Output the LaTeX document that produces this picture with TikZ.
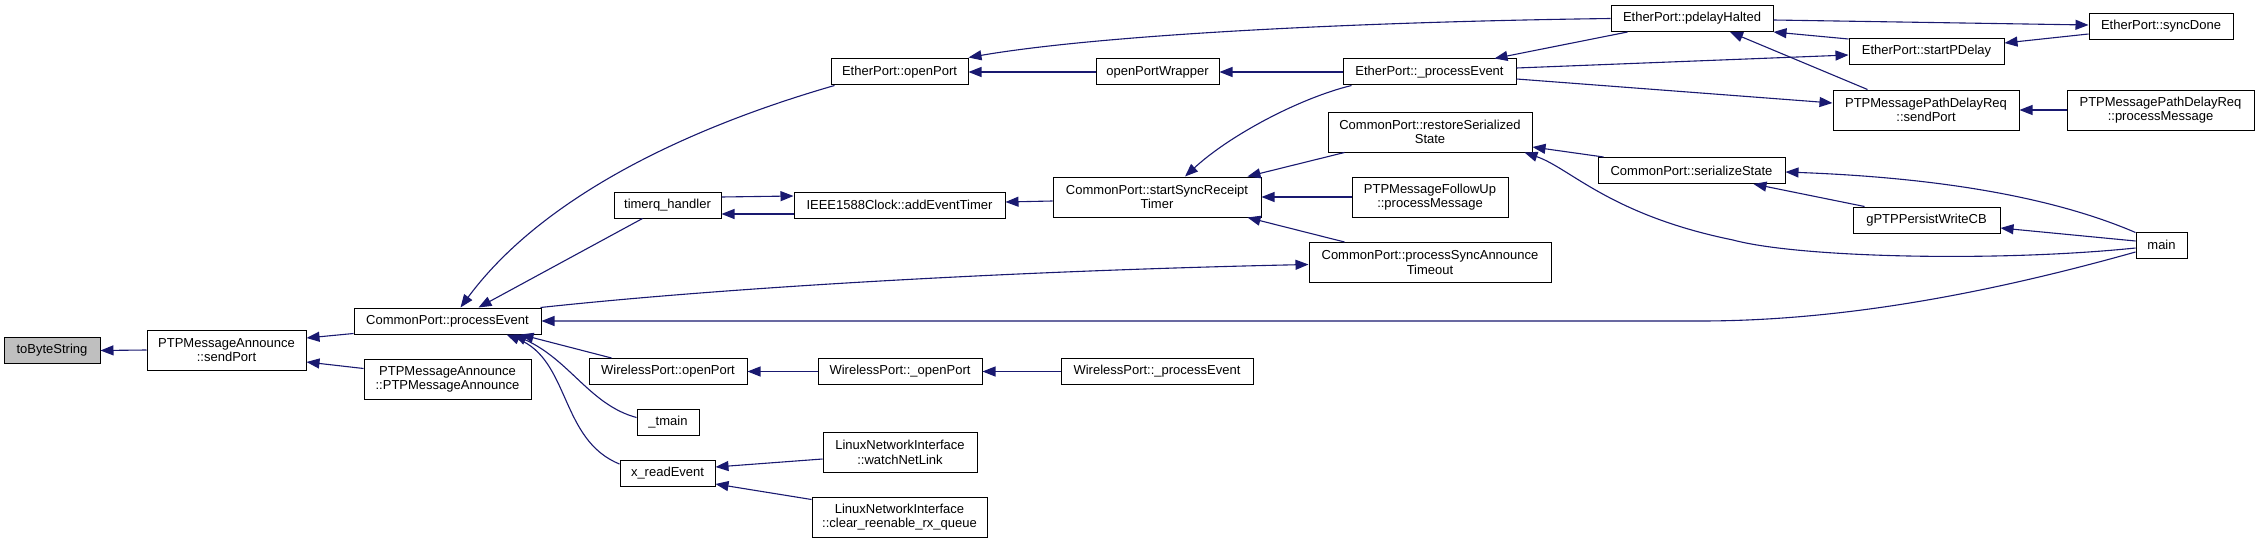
\documentclass[tikz,border=0pt]{standalone}
\usepackage{fontspec}
\setmainfont{Liberation Sans}
\usetikzlibrary{arrows.meta,calc}
\definecolor{edgeblue}{HTML}{191970}
\definecolor{boxgray}{HTML}{BFBFBF}
\begin{document}
\begin{tikzpicture}[x=1pt,y=-1pt,
  fn/.style={draw=black, line width=1pt, fill=white, inner sep=0pt, align=center,
             font=\fontsize{13}{14.7}\selectfont},
  one/.style={fn, minimum height=26pt},
  two/.style={fn, minimum height=40pt},
  e/.style={draw=edgeblue, line width=1.1pt, -{Triangle[length=13pt,width=10pt]}}]
\useasboundingbox (0,0) rectangle (2260,543);
\fill[white] (0,0) rectangle (2260,543);

% nodes
\node[one, fill=boxgray, minimum width=96pt] (tbs) at (52,350.5) {toByteString};
\node[two, minimum width=159pt] (sp) at (226.5,350) {PTPMessageAnnounce\\::sendPort};
\node[one, minimum width=187pt] (pe) at (447.5,321) {CommonPort::processEvent};
\node[two, minimum width=167pt] (pa) at (447.5,379.5) {PTPMessageAnnounce\\::PTPMessageAnnounce};
\node[one, minimum width=137pt] (eop) at (899.5,72) {EtherPort::openPort};
\node[one, minimum width=107pt] (tq) at (667.5,205) {timerq\_handler};
\node[one, minimum width=158pt] (wop) at (668,371.5) {WirelessPort::openPort};
\node[one, minimum width=62pt] (tm) at (668,422.5) {\_tmain};
\node[one, minimum width=95pt] (xr) at (667.5,473.5) {x\_readEvent};
\node[one, minimum width=123pt] (opw) at (1157.5,72) {openPortWrapper};
\node[one, minimum width=211pt] (aet) at (899.5,205) {IEEE1588Clock::addEventTimer};
\node[one, minimum width=164pt] (wop2) at (900,371.5) {WirelessPort::\_openPort};
\node[two, minimum width=154pt] (wnl) at (900,452) {LinuxNetworkInterface\\::watchNetLink};
\node[two, minimum width=175pt] (crq) at (899.5,517) {LinuxNetworkInterface\\::clear\_reenable\_rx\_queue};
\node[two, minimum width=208pt] (ssrt) at (1157,197) {CommonPort::startSyncReceipt\\Timer};
\node[one, minimum width=192pt] (wpe) at (1157,371.5) {WirelessPort::\_processEvent};
\node[one, minimum width=173pt] (epe) at (1429.5,72) {EtherPort::\_processEvent};
\node[two, minimum width=204pt] (rss) at (1430,132) {CommonPort::restoreSerialized\\State};
\node[two, minimum width=156pt] (fu) at (1430,197) {PTPMessageFollowUp\\::processMessage};
\node[two, minimum width=242pt] (psat) at (1430,262.5) {CommonPort::processSyncAnnounce\\Timeout};
\node[one, minimum width=162pt] (pdh) at (1692,18.5) {EtherPort::pdelayHalted};
\node[one, minimum width=187pt] (ss) at (1691.5,170.5) {CommonPort::serializeState};
\node[one, minimum width=155pt] (spd) at (1926.5,51.5) {EtherPort::startPDelay};
\node[two, minimum width=186pt] (pdrs) at (1926,110) {PTPMessagePathDelayReq\\::sendPort};
\node[one, minimum width=147pt] (gpw) at (1926.5,220) {gPTPPersistWriteCB};
\node[one, minimum width=144pt] (sd) at (2161,26.5) {EtherPort::syncDone};
\node[two, minimum width=187pt] (pdrp) at (2160.5,110) {PTPMessagePathDelayReq\\::processMessage};
\node[one, minimum width=51pt] (mn) at (2161.5,245) {main};

% edges
\draw[e] (sp.west) -- (tbs.east);
\draw[e] ($(pe.south west)+(0,-1)$) -- ($(sp.east)+(0,-12)$);
\draw[e] ($(pa.west)+(0,-11)$) -- ($(sp.east)+(0,12)$);
\draw[e] ($(eop.south west)+(4,0)$) .. controls (680,130) and (540,200) .. ($(pe.north)+(13,0)$);
\draw[e] ($(tq.south)+(-25,0)$) -- ($(pe.north)+(31,0)$);
\draw[e] ($(mn.west)+(0,7)$) .. controls (2000,290) and (1850,321) .. (1700,321) -- (pe.east);
\draw[e] ($(wop.north west)+(23,0)$) -- ($(pe.south east)+(-21,0)$);
\draw[e] ($(tm.west)+(0,-5)$) .. controls (590,405) and (570,360) .. ($(pe.south east)+(-28,0)$);
\draw[e] ($(xr.north west)+(0,4)$) .. controls (560,440) and (570,360) .. ($(pe.south east)+(-35,0)$);
\draw[e] ($(pe.north east)+(-1,0)$) .. controls (750,285) and (1050,270) .. ($(psat.west)+(0,2)$);
\draw[e] (opw.west) -- (eop.east);
\draw[e] (pdh.west) .. controls (1350,22) and (1100,35) .. ($(eop.north east)+(0,-1)$);
\draw[e] (epe.west) -- (opw.east);
\draw[e] ($(tq.east)+(0,-8)$) -- ($(aet.west)+(0,-9)$);
\draw[e] ($(aet.west)+(0,9)$) -- ($(tq.east)+(0,9)$);
\draw[e] ($(ssrt.west)+(0,4)$) -- ($(aet.east)+(0,-3)$);
\draw[e] ($(epe.south west)+(9,0)$) .. controls (1300,98) and (1230,135) .. ($(ssrt.north)+(28,0)$);
\draw[e] ($(rss.south west)+(17,0)$) -- ($(ssrt.north east)+(-14,0)$);
\draw[e] (fu.west) -- (ssrt.east);
\draw[e] ($(psat.north west)+(36,0)$) -- ($(ssrt.south east)+(-14,0)$);
\draw[e] ($(pdh.south west)+(17,0)$) -- ($(epe.north east)+(-22,0)$);
\draw[e] ($(epe.east)+(0,-4)$) -- ($(spd.west)+(0,3.5)$);
\draw[e] ($(epe.east)+(0,7)$) -- ($(pdrs.west)+(0,-7)$);
\draw[e] ($(spd.north west)+(0,1)$) -- (pdh.south east);
\draw[e] ($(pdrs.north west)+(35,0)$) -- ($(pdh.south)+(38,0)$);
\draw[e] ($(pdh.east)+(0,1.5)$) -- ($(sd.west)+(0,-1.5)$);
\draw[e] ($(sd.west)+(0,7.5)$) -- ($(spd.east)+(0,-8.5)$);
\draw[e] (pdrp.west) -- (pdrs.east);
\draw[e] ($(ss.north west)+(6,0)$) -- ($(rss.east)+(0,15)$);
\draw[e] ($(mn.west)+(0,3)$) .. controls (2000,262) and (1800,258) .. (1733,240) .. controls (1610,215) and (1570,168) .. ($(rss.south east)+(-8,0)$);
\draw[e] ($(mn.north west)+(0,1)$) .. controls (2060,200) and (1950,178) .. ($(ss.east)+(0,1.5)$);
\draw[e] ($(gpw.north west)+(12,0)$) -- ($(ss.south east)+(-32,0)$);
\draw[e] ($(mn.west)+(0,-4)$) -- ($(gpw.east)+(0,8)$);
\draw[e] (wop2.west) -- (wop.east);
\draw[e] (wpe.west) -- (wop2.east);
\draw[e] ($(wnl.west)+(0,7)$) -- ($(xr.east)+(0,-6.5)$);
\draw[e] ($(crq.north west)+(0,3)$) -- ($(xr.east)+(0,10.5)$);
\end{tikzpicture}
\end{document}
